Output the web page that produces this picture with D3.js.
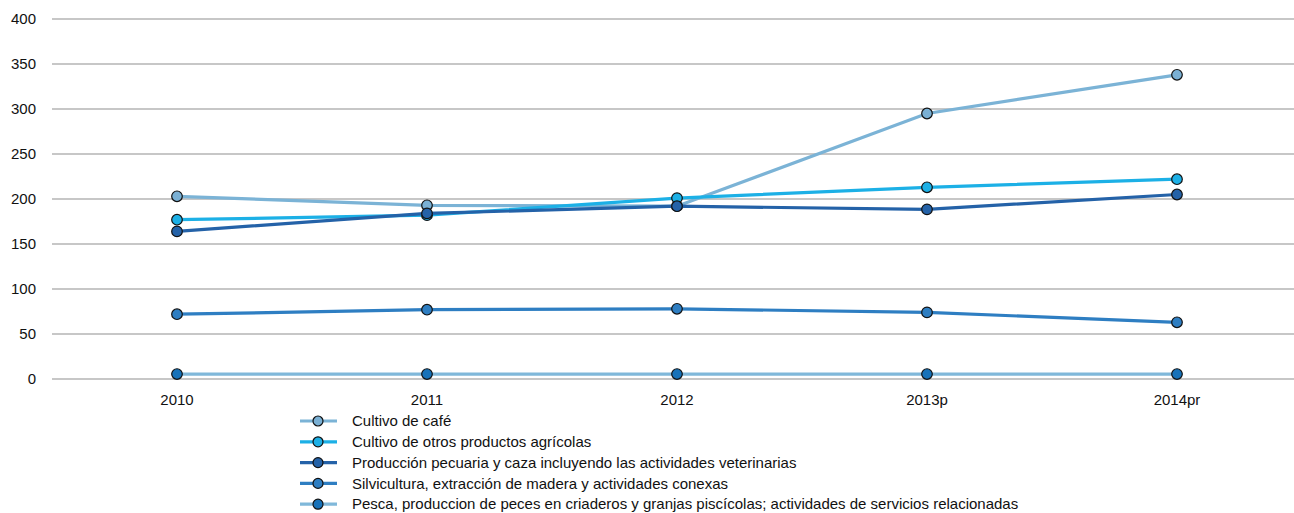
<!DOCTYPE html>
<html>
<head>
    <meta charset="utf-8">
    <title>Chart</title>
    <script src="https://d3js.org/d3.v7.min.js"></script>
    <style>
        body { margin: 0; background: #fff; }
        text { font-family: "Liberation Sans", Arial, sans-serif; fill: #111; }
    </style>
</head>
<body>
    <svg width="1294" height="513" id="mainSvg"></svg>
    <script>
        const years = ["2010", "2011", "2012", "2013p", "2014pr"];
        const yTicks = [0, 50, 100, 150, 200, 250, 300, 350, 400];

        const seriesNames = [
            "Cultivo de café",
            "Cultivo de otros productos agrícolas",
            "Producción pecuaria y caza incluyendo las actividades veterinarias",
            "Silvicultura, extracción de madera y actividades conexas",
            "Pesca, produccion de peces en criaderos y granjas piscícolas; actividades de servicios relacionadas"
        ];
        const cafe = [203, 193, 192, 295, 338];
        const otros = [177, 182, 201, 213, 222];
        const pecuaria = [164, 184, 192, 188.5, 205];
        const silvicultura = [72, 77, 78, 74, 63];
        const pesca = [5.5, 5.5, 5.5, 5.5, 5.5];

        const lineColors = ["#7bb3d6", "#1cb0e6", "#2462a8", "#2e7ec2", "#80b8da"];
        const dotColors = ["#7ab0d4", "#1cb0e6", "#2462a8", "#2e7ec2", "#1772b9"];

        const series = [cafe, otros, pecuaria, silvicultura, pesca].map((vals, i) => ({
            name: seriesNames[i], values: vals, line: lineColors[i], dot: dotColors[i]
        }));

        const svg = d3.select("#mainSvg");

        const x = d3.scaleBand().domain(years).range([52, 1302]);
        const y = d3.scaleLinear().domain([0, 400]).range([379, 19]);

        // grid
        svg.append("g").selectAll("line")
            .data(yTicks).join("line")
            .attr("x1", 52).attr("x2", 1294)
            .attr("y1", d => y(d)).attr("y2", d => y(d))
            .attr("stroke", "#8f8f8f").attr("stroke-width", 1);

        // y labels
        svg.append("g").selectAll("text")
            .data(yTicks).join("text")
            .attr("x", 36).attr("y", d => y(d))
            .attr("dy", "0.35em")
            .attr("text-anchor", "end")
            .attr("font-size", 15)
            .text(d => d);

        // x labels
        svg.append("g").selectAll("text")
            .data(years).join("text")
            .attr("x", d => x(d) + x.bandwidth() / 2)
            .attr("y", 400).attr("dy", "0.35em")
            .attr("text-anchor", "middle")
            .attr("font-size", 15)
            .text(d => d);

        const line = d3.line()
            .x((d, i) => x(years[i]) + x.bandwidth() / 2)
            .y(d => y(d));

        const sg = svg.append("g").selectAll("g")
            .data(series).join("g");

        sg.append("path")
            .attr("d", d => line(d.values))
            .attr("fill", "none")
            .attr("stroke", d => d.line)
            .attr("stroke-width", 3.2);

        sg.selectAll("circle")
            .data(d => d.values.map((v, i) => ({ v: v, i: i, c: d.dot })))
            .join("circle")
            .attr("cx", d => x(years[d.i]) + x.bandwidth() / 2)
            .attr("cy", d => y(d.v))
            .attr("r", 5.3)
            .attr("fill", d => d.c)
            .attr("stroke", "#111")
            .attr("stroke-width", 1.2);

        // legend
        const lg = svg.append("g").selectAll("g")
            .data(series).join("g")
            .attr("transform", (d, i) => `translate(300, ${421 + i * 20.8})`);

        lg.append("line")
            .attr("x1", 0).attr("x2", 37)
            .attr("stroke", d => d.line).attr("stroke-width", 3.2);
        lg.append("circle")
            .attr("cx", 18).attr("r", 5)
            .attr("fill", d => d.dot)
            .attr("stroke", "#111").attr("stroke-width", 1.2);
        lg.append("text")
            .attr("x", 52).attr("dy", "0.35em")
            .attr("font-size", 15)
            .text(d => d.name);
    </script>
</body>
</html>
